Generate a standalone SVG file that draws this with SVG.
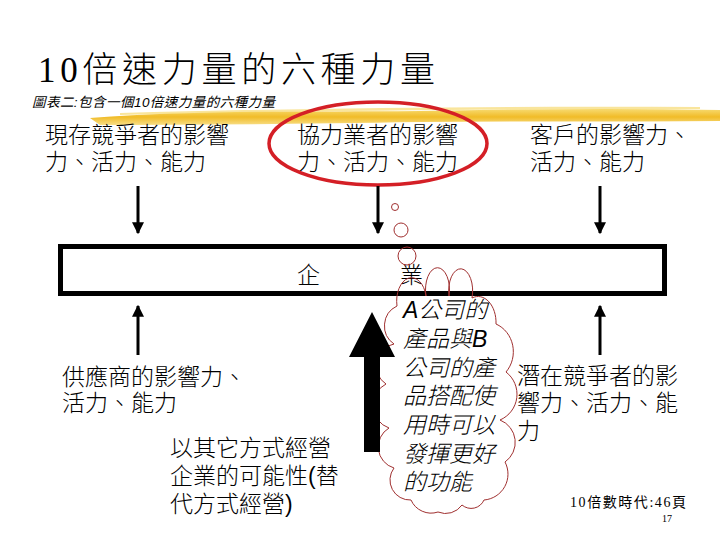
<svg xmlns="http://www.w3.org/2000/svg" width="720" height="540" viewBox="0 0 720 540">
<defs>
<style>
.t{font-family:'Liberation Sans','Noto Sans CJK TC',sans-serif;font-size:23px;font-weight:300;fill:#000}
.ti{font-family:'Liberation Serif','Noto Sans CJK TC',serif;font-weight:300;fill:#000}
.it{font-family:'Liberation Sans','Noto Sans CJK TC',sans-serif;font-size:23px;font-weight:300;font-style:italic;fill:#000}
.ar{stroke:#000;stroke-width:3;fill:none}
.cl{fill:none;stroke:#a03030;stroke-width:1}
</style>
<marker id="ah" viewBox="0 0 10 10" refX="9" refY="5" markerWidth="4" markerHeight="4" orient="auto" markerUnits="strokeWidth">
<path d="M0,0 L10,5 L0,10 z" fill="#000"/>
</marker>
<linearGradient id="yg" x1="0" y1="0" x2="0" y2="1">
<stop offset="0" stop-color="#f7d96a"/>
<stop offset="0.5" stop-color="#f0b81c"/>
<stop offset="1" stop-color="#f7dc80"/>
</linearGradient>
</defs>
<rect width="720" height="540" fill="#fff"/>

<g id="brush">
<path d="M90,118 C200,110 300,112 420,111 C520,109 620,108 720,110 L720,121 C620,122 520,121 420,122 C300,124 200,125 100,125 Z" fill="url(#yg)" opacity="0.95"/>
<path d="M120,113 C300,108 500,106 700,107 L700,109 C500,109 300,111 120,115 Z" fill="#f5d35a" opacity="0.6"/>
</g>

<g id="title">
<text class="ti" x="38" y="82" font-size="35" textLength="397" lengthAdjust="spacing">10倍速力量的六種力量</text>
<text x="32" y="107" font-family="'Liberation Sans','Noto Sans CJK TC',sans-serif" font-size="13.5" font-style="italic" textLength="243" lengthAdjust="spacing">圖表二:包含一個10倍速力量的六種力量</text>
</g>

<g id="n-current">
<text class="t" x="45" y="143">現存競爭者的影響</text>
<text class="t" x="45" y="170">力、活力、能力</text>
</g>

<g id="n-partner">
<text class="t" x="297" y="143">協力業者的影響</text>
<text class="t" x="297" y="170">力、活力、能力</text>
<ellipse cx="378" cy="143.5" rx="109" ry="41.5" fill="none" stroke="#d41f26" stroke-width="3.5"/>
</g>

<g id="n-customer">
<text class="t" x="530" y="143">客戶的影響力、</text>
<text class="t" x="530" y="170">活力、能力</text>
</g>

<g id="n-enterprise">
<rect x="60.5" y="246.5" width="604" height="47" fill="none" stroke="#000" stroke-width="5"/>
<text class="t" x="297" y="283" font-size="28">企</text>
<text class="t" x="400" y="283" font-size="28">業</text>
</g>

<g id="n-supplier">
<text class="t" x="62" y="385">供應商的影響力、</text>
<text class="t" x="62" y="411">活力、能力</text>
</g>

<g id="n-substitute">
<text class="t" x="170" y="456">以其它方式經營</text>
<text class="t" x="170" y="484">企業的可能性(替</text>
<text class="t" x="170" y="512">代方式經營)</text>
</g>

<g id="n-potential">
<text class="t" x="517" y="384">潛在競爭者的影</text>
<text class="t" x="517" y="411">響力、活力、能</text>
<text class="t" x="517" y="439">力</text>
</g>

<g id="n-cloud">
<circle class="cl" cx="395" cy="207" r="3.5"/>
<circle class="cl" cx="401" cy="230" r="7"/>
<circle class="cl" cx="407" cy="256" r="9"/>
<path class="cl" d="M397,306 A14,22 0 0 1 426,296 A12,22 0 1 1 449,296 A12,22 0 1 1 472,298 A18,26 0 0 1 496,324 A28,30 0 0 1 506,372 A28,28 0 0 1 500,420 A24,24 0 0 1 505,462 A26,26 0 0 1 484,500 A14,14 0 0 1 462,505 A20,20 0 0 1 438,512 A22,22 0 0 1 411,500 A20,20 0 0 1 394,468 A22,22 0 0 1 389,428 A24,24 0 0 1 386,384 A22,22 0 0 1 394,344 A22,22 0 0 1 397,306 Z"/>
<text class="it" x="403" y="318">A公司的</text>
<text class="it" x="403" y="347">產品與B</text>
<text class="it" x="403" y="376">公司的產</text>
<text class="it" x="403" y="404">品搭配使</text>
<text class="it" x="403" y="433">用時可以</text>
<text class="it" x="403" y="462">發揮更好</text>
<text class="it" x="403" y="490">的功能</text>
</g>

<g id="connectors">
<line class="ar" x1="138" y1="186" x2="138" y2="233" marker-end="url(#ah)"/>
<line class="ar" x1="378" y1="186" x2="378" y2="233" marker-end="url(#ah)"/>
<line class="ar" x1="600" y1="186" x2="600" y2="233" marker-end="url(#ah)"/>
<line class="ar" x1="138" y1="355" x2="138" y2="306" marker-end="url(#ah)"/>
<line class="ar" x1="600" y1="355" x2="600" y2="306" marker-end="url(#ah)"/>
<polygon points="372,312 395,357 380,357 380,452 364,452 364,357 349,357" fill="#000"/>
</g>

<g id="footer">
<text x="570" y="507" font-family="'Liberation Serif','Noto Sans CJK TC',serif" font-size="14" textLength="116" lengthAdjust="spacing">10倍數時代:46頁</text>
<text x="662" y="522" font-family="'Liberation Serif',serif" font-size="10">17</text>
</g>
</svg>
